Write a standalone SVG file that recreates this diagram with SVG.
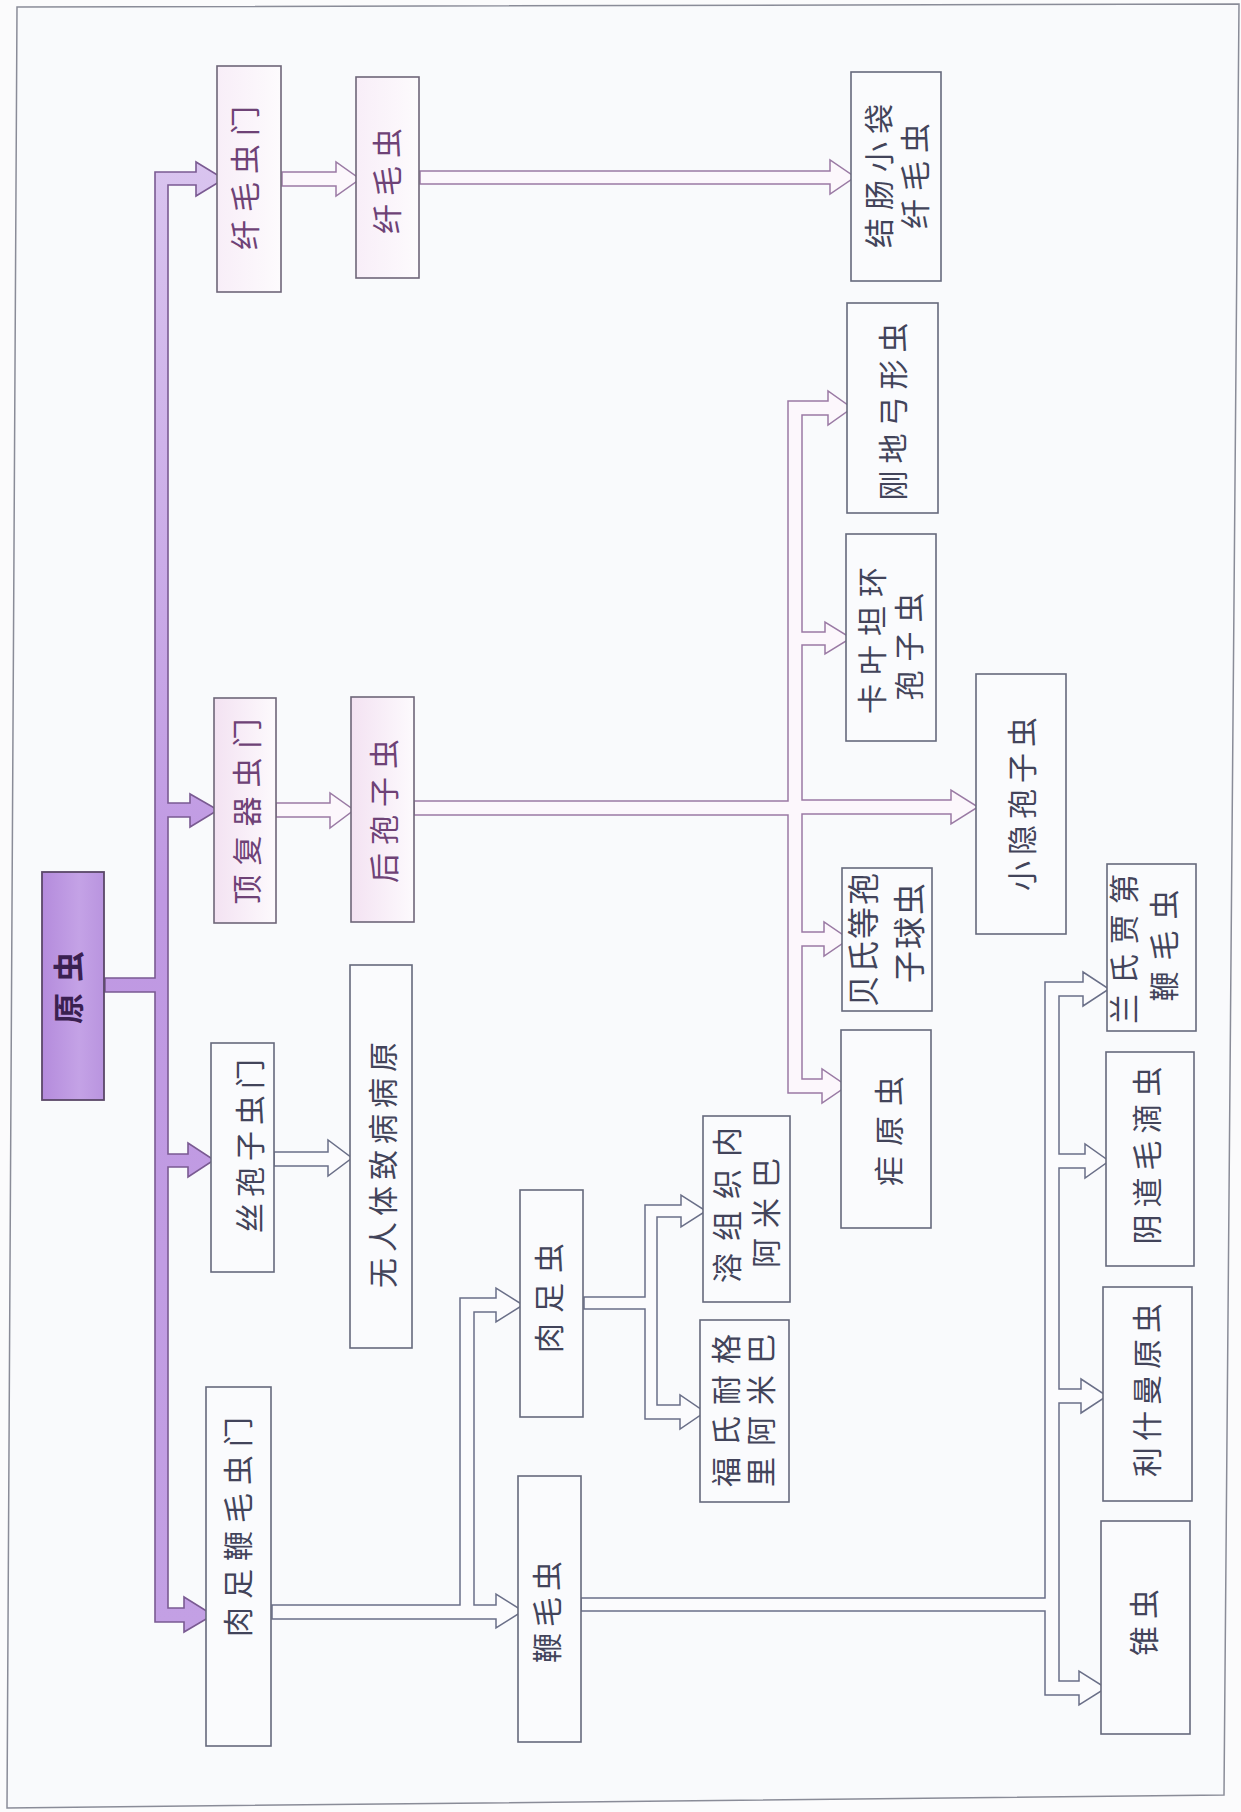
<svg xmlns="http://www.w3.org/2000/svg" width="1241" height="1812" viewBox="0 0 1241 1812">
<defs>
<linearGradient id="gPink" x1="0" y1="0" x2="1" y2="0">
<stop offset="0" stop-color="#f3e2f2"/>
<stop offset="1" stop-color="#fdfafd"/>
</linearGradient>
<linearGradient id="gPale" x1="0" y1="0" x2="1" y2="0">
<stop offset="0" stop-color="#f8eef8"/>
<stop offset="1" stop-color="#fdfbfd"/>
</linearGradient>
<linearGradient id="gTrunk" x1="0" y1="0" x2="0" y2="1">
<stop offset="0" stop-color="#d9c4ef"/>
<stop offset="0.5" stop-color="#bf98e2"/>
<stop offset="1" stop-color="#c3a0e4"/>
</linearGradient>
<linearGradient id="gRoot" x1="0" y1="0" x2="1" y2="0">
<stop offset="0" stop-color="#b48bdc"/>
<stop offset="0.6" stop-color="#c4a2e6"/>
<stop offset="1" stop-color="#b994df"/>
</linearGradient>
</defs>
<style>
.box{fill:#fafbfd;stroke:#666a7c;stroke-width:1.6}
.boxp{fill:url(#gPink);stroke:#6e6678;stroke-width:1.6}
.boxq{fill:url(#gPale);stroke:#6e6678;stroke-width:1.6}
.root{fill:url(#gRoot);stroke:#5a4868;stroke-width:1.8}
.t{font-family:"Noto Sans CJK SC","Noto Sans",sans-serif;font-size:30px;fill:#42445a;text-anchor:middle;dominant-baseline:central;letter-spacing:8px}
.tp{fill:#6e4276}
.tr{font-weight:bold;font-size:31px;fill:#3a2050;letter-spacing:11px}
.trunk{fill:url(#gTrunk);stroke:#7a5a92;stroke-width:1.6;stroke-linejoin:miter}
.cp{fill:#fcf7fc;stroke:#9a7aa4;stroke-width:1.5;stroke-linejoin:miter}
.cg{fill:#fbfbfd;stroke:#6a6f88;stroke-width:1.5;stroke-linejoin:miter}
</style>
<rect x="0" y="0" width="1241" height="1812" fill="#fbfbfc"/>
<polygon points="17,7 1239,4 1224,1795 7,1808" fill="#f9fafc" stroke="#8a8c98" stroke-width="1.5"/>

<g id="connectors">
<path class="trunk" d="M155,172 L196,172 L196,162 L224,179 L196,196 L196,185 L168,185 L168,803 L190,803 L190,794 L218,810 L190,827 L190,817 L168,817 L168,1154 L188,1154 L188,1143 L214,1160 L188,1177 L188,1167 L168,1167 L168,1608 L184,1608 L184,1597 L213,1615 L184,1632 L184,1622 L155,1622 L155,992 L105,992 L105,978 L155,978 Z"/>
<path class="cp" d="M282,172 L336,172 L336,162 L360,179 L336,196 L336,186 L282,186 Z"/>
<path class="cp" d="M420,171 L830,171 L830,160 L855,177 L830,194 L830,184 L420,184 Z"/>
<path class="cp" d="M276,803 L330,803 L330,793 L354,810 L330,828 L330,817 L276,817 Z"/>
<path class="cp" d="M414,801 L788,801 L788,401 L828,401 L828,391 L852,408 L828,425 L828,415 L802,415 L802,632 L825,632 L825,622 L851,638 L825,654 L825,645 L802,645 L802,800 L951,800 L951,790 L978,807 L951,824 L951,814 L802,814 L802,932 L824,932 L824,922 L849,939 L824,956 L824,946 L802,946 L802,1079 L822,1079 L822,1069 L847,1086 L822,1103 L822,1093 L788,1093 L788,815 L414,815 Z"/>
<path class="cg" d="M274,1152 L328,1152 L328,1140 L352,1158 L328,1176 L328,1166 L274,1166 Z"/>
<path class="cg" d="M272,1605 L460,1605 L460,1298 L496,1298 L496,1288 L523,1305 L496,1322 L496,1312 L474,1312 L474,1605 L496,1605 L496,1594 L523,1611 L496,1628 L496,1619 L272,1619 Z"/>
<path class="cg" d="M584,1297 L645,1297 L645,1205 L681,1205 L681,1195 L706,1211 L681,1227 L681,1217 L657,1217 L657,1405 L680,1405 L680,1395 L705,1412 L680,1429 L680,1419 L645,1419 L645,1309 L584,1309 Z"/>
<path class="cg" d="M581,1598 L1045,1598 L1045,982 L1083,982 L1083,972 L1109,989 L1083,1006 L1083,996 L1059,996 L1059,1154 L1085,1154 L1085,1144 L1109,1161 L1085,1178 L1085,1168 L1059,1168 L1059,1389 L1081,1389 L1081,1379 L1107,1396 L1081,1413 L1081,1403 L1059,1403 L1059,1681 L1079,1681 L1079,1671 L1106,1688 L1079,1705 L1079,1695 L1045,1695 L1045,1611 L581,1611 Z"/>
</g>

<g id="n-yuanchong">
<rect class="root" x="42" y="872" width="62" height="228"/>
<text class="t tr" transform="translate(66,982) rotate(-90)">原虫</text>
</g>
<g id="n-xianmaochongmen">
<rect class="boxq" x="217" y="66" width="64" height="226"/>
<text class="t tp" transform="translate(243,174) rotate(-90)">纤毛虫门</text>
</g>
<g id="n-xianmaochong">
<rect class="boxq" x="356" y="77" width="63" height="201"/>
<text class="t tp" transform="translate(385,177) rotate(-90)">纤毛虫</text>
</g>
<g id="n-jiechang">
<rect class="box" x="851" y="72" width="90" height="209"/>
<text class="t" transform="translate(877,172) rotate(-90)">结肠小袋</text>
<text class="t" transform="translate(913,172) rotate(-90)">纤毛虫</text>
</g>
<g id="n-gangdi">
<rect class="box" x="847" y="303" width="91" height="210"/>
<text class="t" transform="translate(891,408) rotate(-90)" style="letter-spacing:7px">刚地弓形虫</text>
</g>
<g id="n-kaiye">
<rect class="box" x="846" y="534" width="90" height="207"/>
<text class="t" transform="translate(870,636) rotate(-90)" style="letter-spacing:9px">卡叶坦环</text>
<text class="t" transform="translate(907,642) rotate(-90)" style="letter-spacing:9px">孢子虫</text>
</g>
<g id="n-xiaoyin">
<rect class="box" x="976" y="674" width="90" height="260"/>
<text class="t" transform="translate(1020,801) rotate(-90)" style="letter-spacing:6px">小隐孢子虫</text>
</g>
<g id="n-beishi">
<rect class="box" x="842" y="868" width="90" height="143"/>
<text class="t" transform="translate(861,939) rotate(-90)" style="font-size:32px;letter-spacing:2px">贝氏等孢</text>
<text class="t" transform="translate(907,932) rotate(-90)" style="font-size:32px;letter-spacing:2px">子球虫</text>
</g>
<g id="n-nueyuanchong">
<rect class="box" x="841" y="1030" width="90" height="198"/>
<text class="t" transform="translate(887,1126) rotate(-90)" style="letter-spacing:10px">疟原虫</text>
</g>
<g id="n-dingfuqi">
<rect class="boxp" x="214" y="698" width="62" height="225"/>
<text class="t tp" transform="translate(245,807) rotate(-90)" style="letter-spacing:9px">顶复器虫门</text>
</g>
<g id="n-houbaozi">
<rect class="boxp" x="351" y="697" width="63" height="225"/>
<text class="t tp" transform="translate(382,807) rotate(-90)">后孢子虫</text>
</g>
<g id="n-sibaozi">
<rect class="box" x="211" y="1043" width="63" height="229"/>
<text class="t" transform="translate(248,1143) rotate(-90)" style="letter-spacing:6px">丝孢子虫门</text>
</g>
<g id="n-wurenti">
<rect class="box" x="350" y="965" width="62" height="383"/>
<text class="t" transform="translate(381,1162) rotate(-90)" style="letter-spacing:6px">无人体致病病原</text>
</g>
<g id="n-rouzubianmao">
<rect class="box" x="206" y="1387" width="65" height="359"/>
<text class="t" transform="translate(236,1523) rotate(-90)">肉足鞭毛虫门</text>
</g>
<g id="n-rouzuchong">
<rect class="box" x="520" y="1190" width="63" height="227"/>
<text class="t" transform="translate(547,1293) rotate(-90)" style="letter-spacing:10px">肉足虫</text>
</g>
<g id="n-bianmaochong">
<rect class="box" x="518" y="1476" width="63" height="266"/>
<text class="t" transform="translate(545,1609) rotate(-90)" style="letter-spacing:6px">鞭毛虫</text>
</g>
<g id="n-rongzuzhi">
<rect class="box" x="703" y="1116" width="87" height="186"/>
<text class="t" transform="translate(725,1199) rotate(-90)" style="letter-spacing:12px">溶组织内</text>
<text class="t" transform="translate(764,1208) rotate(-90)" style="letter-spacing:10px">阿米巴</text>
</g>
<g id="n-fushi">
<rect class="box" x="700" y="1320" width="89" height="182"/>
<text class="t" transform="translate(724,1405) rotate(-90)" style="letter-spacing:11px">福氏耐格</text>
<text class="t" transform="translate(759,1405) rotate(-90)" style="letter-spacing:11px">里阿米巴</text>
</g>
<g id="n-lanshi">
<rect class="box" x="1107" y="864" width="89" height="167"/>
<text class="t" transform="translate(1122,944) rotate(-90)" style="letter-spacing:10px">兰氏贾第</text>
<text class="t" transform="translate(1162,940) rotate(-90)" style="letter-spacing:11px">鞭毛虫</text>
</g>
<g id="n-yindao">
<rect class="box" x="1106" y="1052" width="88" height="214"/>
<text class="t" transform="translate(1145,1152) rotate(-90)" style="letter-spacing:7px">阴道毛滴虫</text>
</g>
<g id="n-lishiman">
<rect class="box" x="1103" y="1287" width="89" height="214"/>
<text class="t" transform="translate(1145,1387) rotate(-90)" style="letter-spacing:6px">利什曼原虫</text>
</g>
<g id="n-zhuichong">
<rect class="box" x="1101" y="1521" width="89" height="213"/>
<text class="t" transform="translate(1142,1619) rotate(-90)" style="letter-spacing:7px">锥虫</text>
</g>
</svg>
